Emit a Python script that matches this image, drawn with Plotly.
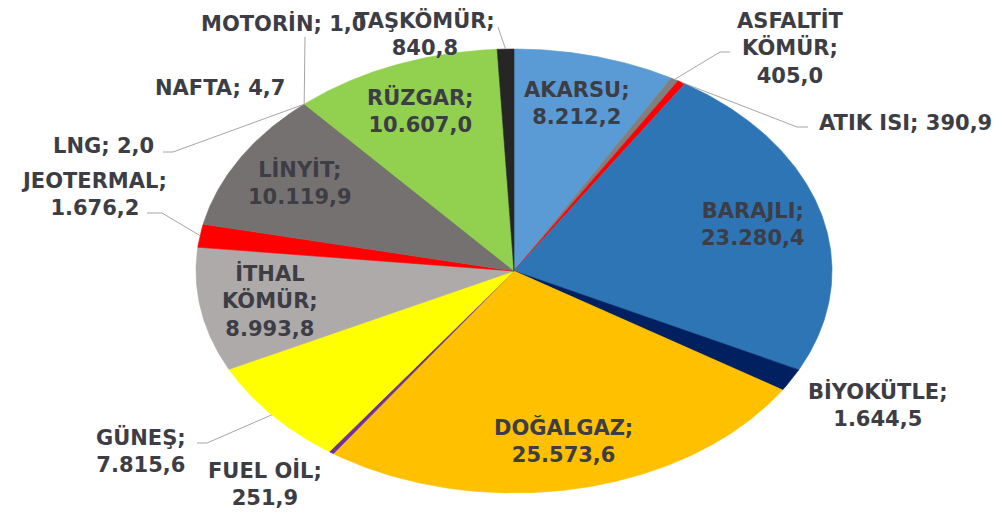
import math
import numpy as np
import plotly.graph_objects as go

# ---------------- data ----------------
categories = ["AKARSU", "ASFALTİT KÖMÜR", "ATIK ISI", "BARAJLI", "BİYOKÜTLE",
              "DOĞALGAZ", "FUEL OİL", "GÜNEŞ", "İTHAL KÖMÜR", "JEOTERMAL",
              "LİNYİT", "LNG", "NAFTA", "MOTORİN", "RÜZGAR", "TAŞKÖMÜR"]
values = [8212.2, 405.0, 390.9, 23280.4, 1644.5,
          25573.6, 251.9, 7815.6, 8993.8, 1676.2,
          10119.9, 2.0, 4.7, 1.0, 10607.0, 840.8]
colors = ["#5B9BD5", "#7F7F7F", "#FF0000", "#2E75B6", "#002060",
          "#FFC000", "#7030A0", "#FFFF00", "#AEAAAA", "#FF0000",
          "#767171", "#A5A5A5", "#C55A11", "#264478", "#92D050", "#262626"]

# ---------------- geometry (screen pixels of the 1002x513 window) ----------------
OFF = 8                      # page body margin
W, H = 1002 - OFF, 513 - OFF
CX, CY, RX, RY = 514, 271, 318, 222
TEXT = "#3D3D45"
FONT = "DejaVu Sans"
FS = 21


def tr_num(v):
    s = f"{v:,.1f}"
    return s.replace(",", "_").replace(".", ",").replace("_", ".")


def P(px, py):
    return (px - CX) / RX, (CY - py) / RY


total = sum(values)
cum = np.concatenate([[0.0], np.cumsum(values)]) / total

fig = go.Figure()

# slices (angles clockwise from 12 o'clock, unit circle stretched by axis scales)
mids = []
for i, name in enumerate(categories):
    t0, t1 = cum[i] * 2 * math.pi, cum[i + 1] * 2 * math.pi
    n = max(2, int((t1 - t0) / (2 * math.pi) * 720) + 2)
    th = np.linspace(t0, t1, n)
    xs = np.concatenate([[0], np.sin(th), [0]])
    ys = np.concatenate([[0], np.cos(th), [0]])
    mids.append((t0 + t1) / 2)
    fig.add_trace(go.Scatter(x=xs, y=ys, mode="lines", fill="toself",
                             fillcolor=colors[i],
                             line=dict(color=colors[i], width=0.6),
                             hoverinfo="text", text=f"{name}; {tr_num(values[i])}",
                             showlegend=False))

# inside labels
inside = {"AKARSU": "AKARSU;", "BARAJLI": "BARAJLI;", "DOĞALGAZ": "DOĞALGAZ;",
          "İTHAL KÖMÜR": "İTHAL<br>KÖMÜR;", "LİNYİT": "LİNYİT;", "RÜZGAR": "RÜZGAR;"}
for i, name in enumerate(categories):
    if name in inside:
        r = 0.78
        fig.add_annotation(x=r * math.sin(mids[i]), y=r * math.cos(mids[i]),
                           xref="x", yref="y", showarrow=False,
                           text=f"{inside[name]}<br>{tr_num(values[i])}",
                           font=dict(family=FONT, size=FS, color=TEXT, weight="bold"),
                           align="center")

# outside labels: text layout, label centre (px), leader path (px) or None
outside = {
    "ASFALTİT KÖMÜR": ("ASFALTİT<br>KÖMÜR;<br>{v}", (790, 48), [(720, 52), (730, 52)]),
    "ATIK ISI": ("ATIK ISI; {v}", (905, 123), [(797, 127), (808, 127)]),
    "BİYOKÜTLE": ("BİYOKÜTLE;<br>{v}", (878, 405), None),
    "FUEL OİL": ("FUEL OİL;<br>{v}", (265, 484), None),
    "GÜNEŞ": ("GÜNEŞ;<br>{v}", (141, 451), [(207, 443), (197, 443)]),
    "JEOTERMAL": ("JEOTERMAL;<br>{v}", (94, 194), [(162, 213), (147, 213)]),
    "LNG": ("LNG; {v}", (103, 146), [(173, 152), (163, 152)]),
    "NAFTA": ("NAFTA; {v}", (220, 88), None),
    "MOTORİN": ("MOTORİN; {v}", (283, 23), [(305, 37)]),
    "TAŞKÖMÜR": ("TAŞKÖMÜR;<br>{v}", (425, 34), [(498, 27)]),
}
for i, name in enumerate(categories):
    if name not in outside:
        continue
    fmt, (lx, ly), path = outside[name]
    x0, y0 = P(lx, ly)
    if path:
        xs = [math.sin(mids[i])]
        ys = [math.cos(mids[i])]
        for (px, py) in path:
            a, b = P(px, py)
            xs.append(a)
            ys.append(b)
        fig.add_trace(go.Scatter(x=xs, y=ys, mode="lines",
                                 line=dict(color="#A6A6A6", width=1),
                                 hoverinfo="skip", showlegend=False))
    fig.add_annotation(x=x0, y=y0, xref="x", yref="y", showarrow=False,
                       text=fmt.format(v=tr_num(values[i])),
                       font=dict(family=FONT, size=FS, color=TEXT, weight="bold"),
                       align="center")

fig.update_layout(
    width=W, height=H, autosize=False,
    margin=dict(l=0, r=0, t=0, b=0),
    paper_bgcolor="white", plot_bgcolor="white",
    xaxis=dict(range=[(OFF - CX) / RX, (OFF + W - CX) / RX], visible=False, fixedrange=True),
    yaxis=dict(range=[(CY - OFF - H) / RY, (CY - OFF) / RY], visible=False, fixedrange=True),
    showlegend=False,
)

fig.write_html("out.html")
